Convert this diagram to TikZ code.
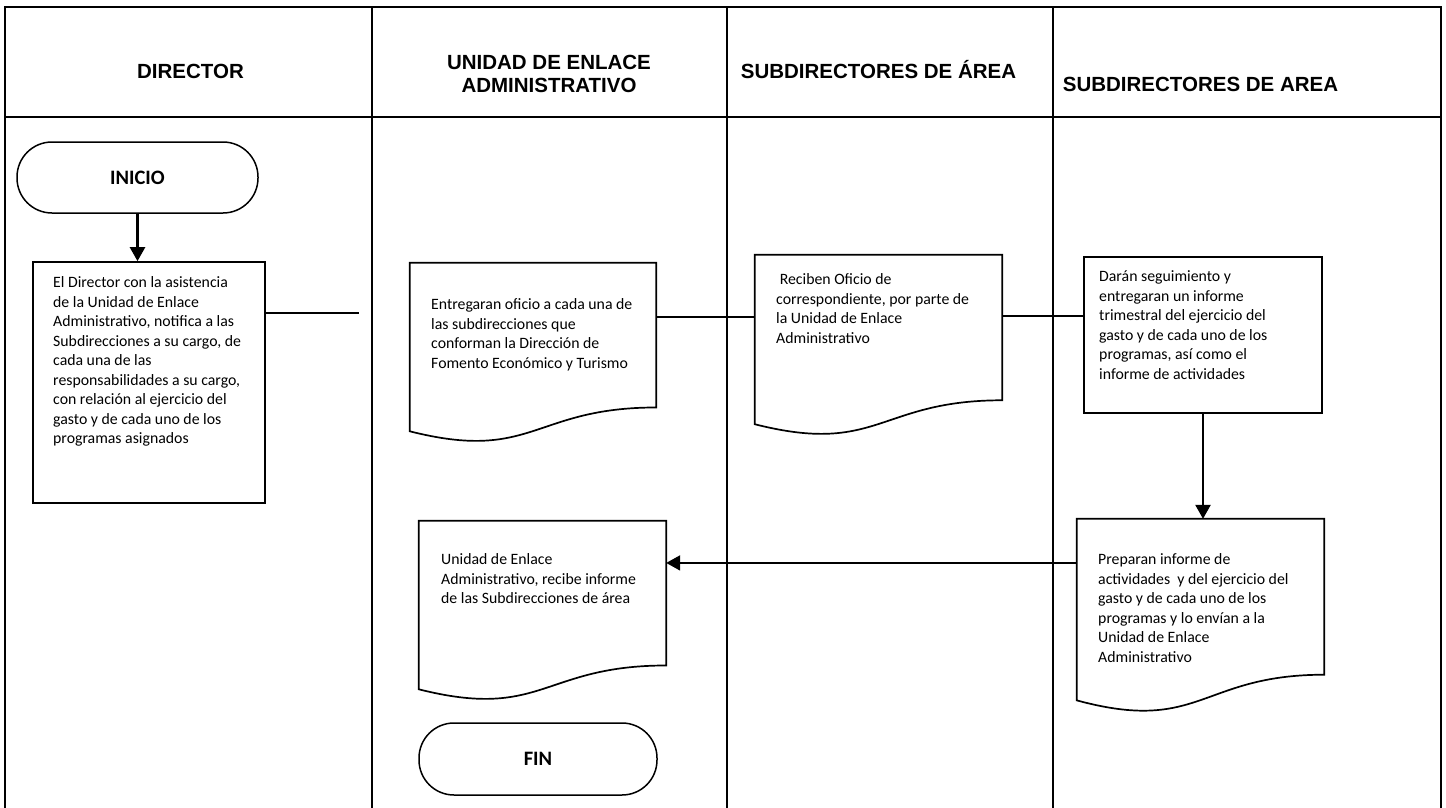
\documentclass[tikz,border=0pt]{standalone}
\usepackage{fontspec}
\setmainfont{Carlito}
\newfontfamily\hdrfont{Liberation Sans}
\usetikzlibrary{arrows.meta,calc}

\tikzset{frame/.style={line width=2.6pt}}
\tikzset{hdr/.style={font=\hdrfont\bfseries\fontsize{20.5}{23.6}\selectfont,align=center,inner sep=0pt}}
\tikzset{term/.style={draw,line width=1.5pt,rounded corners=35pt,font=\bfseries\fontsize{20.5}{24}\selectfont}}
\tikzset{box/.style={draw,line width=1.7pt,inner sep=0pt}}
\tikzset{doc/.style={inner sep=0pt}}
\tikzset{txt/.style={align=left,inner sep=0pt,anchor=north west,font=\fontsize{15.8}{19.5}\selectfont}}
\tikzset{link/.style={line width=1.7pt}}
\tikzset{flow/.style={line width=2.6pt,-{Triangle[length=14pt,width=15pt]}}}

% outline of a document symbol (wavy bottom) around a node
\newcommand{\docpath}[1]{%
  \draw[line width=1.7pt] (#1.north west) -- (#1.north east)
    -- ($(#1.north east)!0.802!(#1.south east)$)
    .. controls ($(#1.north)!0.802!(#1.south)$) and ($(#1.north)!1.107!(#1.south)$)
    .. ($(#1.north west)!0.934!(#1.south west)$) -- cycle;}

\begin{document}
\begin{tikzpicture}[x=1pt,y=-1pt]
    \useasboundingbox (0,0) rectangle (1446,808);
    % lanes
    \draw[frame] (5,808) -- (5,7) -- (1441,7) -- (1441,808);
    \draw[frame] (5,117) -- (1441,117);
    \foreach \lx in {372,727,1053}
        \draw[frame] (\lx,7) -- (\lx,808);
    \node[hdr,anchor=base] (hdir) at (190.5,78) {DIRECTOR};
    \node[hdr] (hunidad) at (549,74) {UNIDAD DE ENLACE\\ADMINISTRATIVO};
    \node[hdr,anchor=base] (hsubA) at (878.5,78) {SUBDIRECTORES DE ÁREA};
    \node[hdr,anchor=base] (hsubB) at (1200.5,92) {SUBDIRECTORES DE AREA};

    % director
    \node[term,minimum width=241pt,minimum height=71pt] (inicio) at (137.5,177.5) {INICIO};
    \node[box,minimum width=232pt,minimum height=241pt] (dir) at (149,382.5) {};
    \node[txt] (dirtxt) at (53,276.5) {El Director con la asistencia\\de la Unidad de Enlace\\Administrativo, notifica a las\\Subdirecciones a su cargo, de\\cada una de las\\responsabilidades a su cargo,\\con relación al ejercicio del\\gasto y de cada uno de los\\programas asignados};
    \draw[flow] (inicio.south) -- (inicio.south |- dir.north);
    \coordinate (stub) at (359,313);
    \draw[link] (dir.east |- stub) -- (stub);

    % unidad de enlace
    \node[doc,minimum width=246pt,minimum height=180pt] (entrega) at (533,353) {};
    \docpath{entrega}
    \node[txt] (entregatxt) at (431,298.5) {Entregaran oficio a cada una de\\las subdirecciones que\\conforman la Dirección de\\Fomento Económico y Turismo};
    \node[doc,minimum width=247pt,minimum height=180pt] (recibe) at (542.5,611) {};
    \docpath{recibe}
    \node[txt] (recibetxt) at (441,553.5) {Unidad de Enlace\\Administrativo, recibe informe\\de las Subdirecciones de área};
    \node[term,minimum width=238pt,minimum height=72pt] (fin) at (538,759) {FIN};

    % subdirectores
    \node[doc,minimum width=247pt,minimum height=181pt] (reciben) at (878.5,345.5) {};
    \docpath{reciben}
    \node[txt] (recibentxt) at (776,273.5) {\mbox{}\ Reciben Oficio de\\correspondiente, por parte de\\la Unidad de Enlace\\Administrativo};
    \node[box,minimum width=238pt,minimum height=156pt] (daran) at (1203,335) {};
    \node[txt] (darantxt) at (1099,270.5) {Darán seguimiento y\\entregaran un informe\\trimestral del ejercicio del\\gasto y de cada uno de los\\programas, así como el\\informe de actividades};
    \node[doc,minimum width=247pt,minimum height=194pt] (preparan) at (1200.5,616) {};
    \docpath{preparan}
    \node[txt] (preparantxt) at (1098,553.5) {Preparan informe de\\actividades\ \ y del ejercicio del\\gasto y de cada uno de los\\programas y lo envían a la\\Unidad de Enlace\\Administrativo};

    % connectors
    \coordinate (e2r) at ($(entrega.north east)!0.3!(entrega.south east)$);
    \draw[link] (e2r) -- (e2r -| reciben.west);
    \coordinate (r2d) at ($(daran.north west)!0.38!(daran.south west)$);
    \draw[link] (r2d -| reciben.east) -- (r2d);
    \draw[flow] (daran.south) -- (daran.south |- preparan.north);
    \coordinate (p2r) at ($(preparan.north west)!0.227!(preparan.south west)$);
    \draw[flow,line width=2pt] (p2r) -- (p2r -| recibe.east);
\end{tikzpicture}
\end{document}
